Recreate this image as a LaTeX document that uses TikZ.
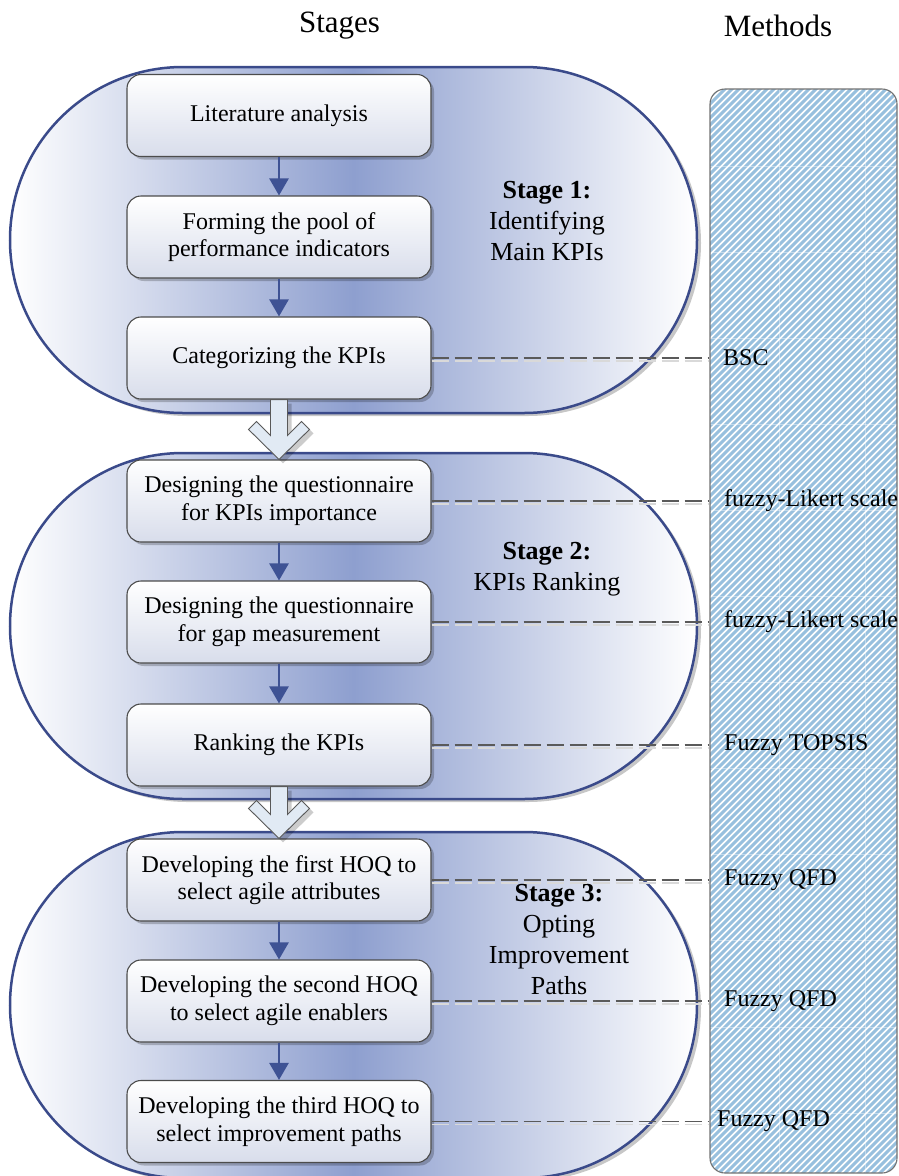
\documentclass[tikz,border=0pt]{standalone}
\usepackage{fontspec}
\setmainfont{Liberation Serif}
\usetikzlibrary{arrows.meta,calc,shadows}

\definecolor{stageblue}{RGB}{142,159,207}
\definecolor{stageedge}{RGB}{58,74,138}
\definecolor{boxbot}{RGB}{216,221,235}
\definecolor{flowblue}{RGB}{62,82,148}
\definecolor{hollowfill}{RGB}{225,234,244}
\definecolor{hatch}{RGB}{152,192,222}
\definecolor{dashgray}{RGB}{90,90,90}

% hollow block arrow leading from one stage to the next
\newcommand\downblock[2]{%
  \draw[hollow] ($(#1.south)+(-8.5,0)$) -- ($(#2.north)+(-8.5,-24)$)
    -- ($(#2.north)+(-22.5,-38)$) -- ($(#2.north)+(-30.5,-30)$)
    -- (#2.north)
    -- ($(#2.north)+(30.5,-30)$) -- ($(#2.north)+(22.5,-38)$)
    -- ($(#2.north)+(8.5,-24)$) -- ($(#1.south)+(8.5,0)$) -- cycle;}

% pill-shaped stage background, given its top y coordinate
\newcommand\stagepill[1]{%
  \path[stageshape] (183,#1) -- (524,#1)
    arc[start angle=-90, end angle=90, radius=173]
    -- (183,#1+346)
    arc[start angle=90, end angle=270, radius=173] -- cycle;}

\begin{document}
\begin{tikzpicture}[x=1pt,y=-1pt,
  stageshape/.style={draw=stageedge, line width=2.5pt,
    left color=white, right color=white, middle color=stageblue,
    drop shadow={shadow xshift=4pt, shadow yshift=-3pt, opacity=0.22, fill=black}},
  stepbox/.style={draw=black!70, line width=1.1pt, rounded corners=14pt,
    top color=white, bottom color=boxbot,
    minimum width=304pt, minimum height=82pt, align=center, inner sep=2pt,
    font=\fontsize{24}{27.6}\selectfont,
    drop shadow={shadow xshift=3pt, shadow yshift=-3pt, opacity=0.22, fill=black}},
  flow/.style={draw=flowblue, line width=2.5pt, -{Triangle[width=19pt,length=17pt]}},
  hollow/.style={draw=black!65, line width=0.9pt, fill=hollowfill,
    drop shadow={shadow xshift=4pt, shadow yshift=-4pt, opacity=0.2, fill=black}},
  methodline/.style={draw=dashgray, line width=1.5pt, dash pattern=on 17pt off 6pt},
  methodshade/.style={draw=black!15, line width=1.5pt, dash pattern=on 17pt off 6pt},
  methodlabel/.style={anchor=west, inner sep=0pt, font=\fontsize{24}{27.6}\selectfont},
  stagelabel/.style={align=center, inner sep=0pt, font=\fontsize{26}{31}\selectfont},
  header/.style={inner sep=0pt, font=\fontsize{31}{36}\selectfont},
  hatchline/.style={draw=hatch, line width=2.9pt},
  gridline/.style={draw=white, line width=1pt, opacity=0.4},
  colframe/.style={draw=black!55, line width=1.1pt, rounded corners=15pt,
    minimum width=187pt, minimum height=1084pt, inner sep=0pt},
]
\useasboundingbox (0,0) rectangle (898,1176);
\fill[white] (0,0) rectangle (898,1176);

% headers
\node[header] (hstages) at (339.5,26) {Stages};
\node[header] (hmethods) at (778,26) {Methods};

% hatched methods column
\begin{scope}
  \clip[rounded corners=15pt] (710,89) rectangle (897,1173);
  \fill[white] (710,89) rectangle (897,1173);
  \foreach \i in {0,...,184} \draw[hatchline] (\i*7-380,1180) -- ++(1200,-1200);
  \foreach \k in {0,...,11} \draw[gridline] (710,166+\k*86.1) -- (897,166+\k*86.1);
  \draw[gridline] (779,89) -- (779,1173);
  \draw[gridline] (865,89) -- (865,1173);
\end{scope}
\node[colframe] (col) at (803.5,631) {};

% stage backgrounds
\stagepill{67}
\stagepill{453}
\stagepill{832}

% stage labels
\node[stagelabel] (s1) at (547,221.5) {\textbf{Stage 1:}\\Identifying\\Main KPIs};
\node[stagelabel] (s2) at (547,569) {\textbf{Stage 2:}\\KPIs Ranking};
\node[stagelabel] (s3) at (559,939.5) {\textbf{Stage 3:}\\Opting\\Improvement\\Paths};

% steps
\node[stepbox] (lit)  at (279,115.5) {Literature analysis};
\node[stepbox] (pool) at (279,237)   {Forming the pool of\\performance indicators};
\node[stepbox] (cat)  at (279,358)   {Categorizing the KPIs};
\node[stepbox] (qimp) at (279,501)   {Designing the questionnaire\\for KPIs importance};
\node[stepbox] (qgap) at (279,622)   {Designing the questionnaire\\for gap measurement};
\node[stepbox] (rank) at (279,745)   {Ranking the KPIs};
\node[stepbox] (hoqa) at (279,880)   {Developing the first HOQ to\\select agile attributes};
\node[stepbox] (hoqb) at (279,1001)  {Developing the second HOQ\\to select agile enablers};
\node[stepbox] (hoqc) at (279,1121.5){Developing the third HOQ to\\select improvement paths};

% flow inside each stage
\draw[flow] (lit) -- (pool);
\draw[flow] (pool) -- (cat);
\draw[flow] (qimp) -- (qgap);
\draw[flow] (qgap) -- (rank);
\draw[flow] (hoqa) -- (hoqb);
\draw[flow] (hoqb) -- (hoqc);

% transitions between stages
\downblock{cat}{qimp}
\downblock{rank}{hoqa}

% methods attached to steps
\foreach \s in {cat,qimp,qgap,rank,hoqa,hoqb,hoqc} {
  \draw[methodshade] ([yshift=-3pt]\s.east) -- ([yshift=-3pt]\s.east -| col.west);
  \draw[methodline] (\s.east) -- (\s.east -| col.west);
}
\node[methodlabel] (mbsc)   at (723,358)  {BSC};
\node[methodlabel] (mlik1)  at (724,501)  {fuzzy-Likert scale};
\node[methodlabel] (mlik2)  at (724,622)  {fuzzy-Likert scale};
\node[methodlabel] (mtop)   at (724,745)  {Fuzzy TOPSIS};
\node[methodlabel] (mqfd1)  at (724,880)  {Fuzzy QFD};
\node[methodlabel] (mqfd2)  at (724,1001) {Fuzzy QFD};
\node[methodlabel] (mqfd3)  at (717,1121.5) {Fuzzy QFD};
\end{tikzpicture}
\end{document}
